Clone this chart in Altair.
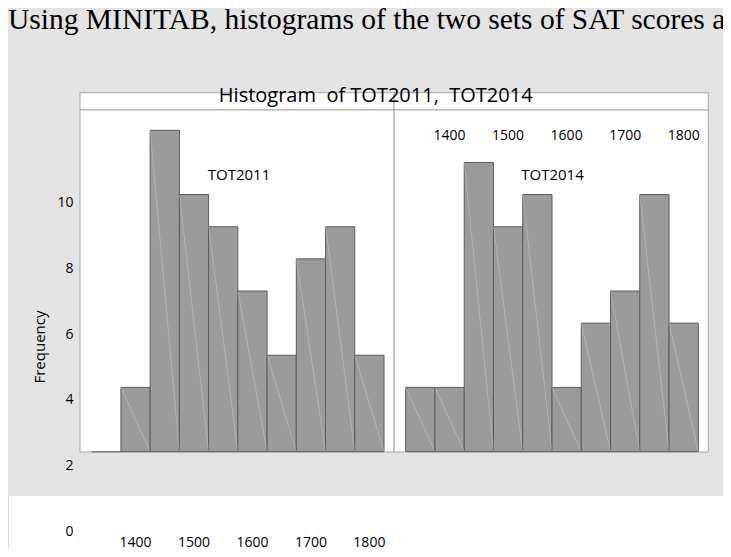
import altair as alt
import pandas as pd

# ---- data ----
bin_starts = [1325, 1375, 1425, 1475, 1525, 1575, 1625, 1675, 1725, 1775]
bin_ends = [1375, 1425, 1475, 1525, 1575, 1625, 1675, 1725, 1775, 1825]
counts_2011 = [0, 2, 10, 8, 7, 5, 3, 6, 7, 3]
counts_2014 = [2, 2, 9, 7, 8, 2, 4, 5, 8, 4]
x_tick_values = [1400, 1500, 1600, 1700, 1800]
top_tick_values = [1600, 1700, 1800]
y_tick_values = [0, 2, 4, 6, 8, 10]
y_label_values = [0, 2, 4, 6, 8, 10]

intro_text = "Using MINITAB, histograms of the two sets of SAT scores are shown below."
title_text = "Histogram\u00a0\u00a0of TOT2011,\u00a0\u00a0TOT2014"
panel_names = ["TOT2011", "TOT2014"]

W, H = 715, 541
FONT = "Open Sans"
FRAME = "#a8a8a8"

df11 = pd.DataFrame({"start": bin_starts, "end": bin_ends, "count": counts_2011})
df14 = pd.DataFrame({"start": bin_starts, "end": bin_ends, "count": counts_2014})
df_xl = pd.DataFrame({"v": x_tick_values, "t": [str(v) for v in x_tick_values]})
df_yl = pd.DataFrame({"v": y_label_values, "t": [str(v) for v in y_label_values]})
one = pd.DataFrame({"k": [0]})

xs_left = alt.Scale(domain=[1325, 1825], range=[83.7, 376], nice=False, zero=False)
xs_right = alt.Scale(domain=[1325, 1825], range=[397.7, 690.3], nice=False, zero=False)
ys = alt.Scale(domain=[0, 10], range=[443.7, 122.3], nice=False, zero=False)
ys_lab = alt.Scale(domain=[0, 10], range=[524, 195], nice=False, zero=False)

bg = alt.Chart(one).mark_rect(fill="#e4e4e4").encode(
    x=alt.value(0), x2=alt.value(W), y=alt.value(0), y2=alt.value(488))

intro = alt.Chart(one).mark_text(
    text=intro_text, font="Liberation Serif", fontSize=29.5, align="left",
    baseline="alphabetic", color="black").encode(x=alt.value(0), y=alt.value(21))

header = alt.Chart(one).mark_rect(fill="white", stroke=FRAME, strokeWidth=1).encode(
    x=alt.value(72), x2=alt.value(700.3), y=alt.value(84.7), y2=alt.value(102))

panel = alt.Chart(one).mark_rect(fill="white", stroke=FRAME, strokeWidth=1).encode(
    x=alt.value(72), x2=alt.value(700.3), y=alt.value(102), y2=alt.value(444))

bars_l = alt.Chart(df11).mark_rect(fill="#9b9b9b", stroke="#5c5c5c", strokeWidth=1).encode(
    x=alt.X("start:Q", scale=xs_left,
            axis=alt.Axis(orient="bottom", offset=443.7 - H, values=x_tick_values,
                          labels=False, domain=False, grid=False, tickSize=4,
                          tickColor=FRAME, title=None)),
    x2="end:Q",
    y=alt.Y("count:Q", scale=ys,
            axis=alt.Axis(orient="left", offset=-72, values=y_tick_values,
                          labels=False, domain=False, grid=False, tickSize=3.5,
                          tickColor=FRAME, title=None)),
    y2=alt.datum(0),
)

bars_r = alt.Chart(df14).mark_rect(fill="#9b9b9b", stroke="#5c5c5c", strokeWidth=1).encode(
    x=alt.X("start:Q", scale=xs_right,
            axis=alt.Axis(orient="top", offset=-84, values=top_tick_values,
                          labels=False, domain=False, grid=False, tickSize=5,
                          tickColor=FRAME, title=None)),
    x2="end:Q",
    y=alt.Y("count:Q", scale=ys, axis=None),
    y2=alt.datum(0),
)

seam_l = alt.Chart(df11).mark_rule(color="white", opacity=0.3, strokeWidth=0.8).encode(
    x=alt.X("start:Q", scale=xs_left, axis=None), x2="end:Q",
    y=alt.Y("count:Q", scale=ys, axis=None), y2=alt.datum(0))

seam_r = alt.Chart(df14).mark_rule(color="white", opacity=0.3, strokeWidth=0.8).encode(
    x=alt.X("start:Q", scale=xs_right, axis=None), x2="end:Q",
    y=alt.Y("count:Q", scale=ys, axis=None), y2=alt.datum(0))

divider = alt.Chart(one).mark_rule(color="#9c9c9c", strokeWidth=1.2).encode(
    x=alt.value(386), y=alt.value(84.7), y2=alt.value(444))

title = alt.Chart(one).mark_text(
    text=title_text, font=FONT, fontSize=20, align="center", baseline="alphabetic",
    color="black").encode(x=alt.value(367.7), y=alt.value(93.5))

lab11 = alt.Chart(one).mark_text(
    text=panel_names[0], font=FONT, fontSize=15, align="center", baseline="alphabetic",
    color="black").encode(x=alt.value(231), y=alt.value(172))

lab14 = alt.Chart(one).mark_text(
    text=panel_names[1], font=FONT, fontSize=15, align="center", baseline="alphabetic",
    color="black").encode(x=alt.value(544.5), y=alt.value(172))

top_labels = alt.Chart(df_xl).mark_text(
    font=FONT, fontSize=14, align="center", baseline="alphabetic", color="black").encode(
    x=alt.X("v:Q", scale=xs_right, axis=None), y=alt.value(132), text="t:N")

bottom_labels = alt.Chart(df_xl).mark_text(
    font=FONT, fontSize=14, align="center", baseline="alphabetic", color="black").encode(
    x=alt.X("v:Q", scale=xs_left, axis=None), y=alt.value(539), text="t:N")

y_labels = alt.Chart(df_yl).mark_text(
    font=FONT, fontSize=14, align="right", baseline="middle", color="black").encode(
    x=alt.value(65.5), y=alt.Y("v:Q", scale=ys_lab, axis=None), text="t:N")

freq = alt.Chart(one).mark_text(
    text="Frequency", font=FONT, fontSize=15, angle=270, align="center",
    baseline="middle", color="black").encode(x=alt.value(32), y=alt.value(339))

chart = alt.layer(
    bg, intro, header, panel, bars_l, bars_r, seam_l, seam_r, divider,
    title, lab11, lab14, top_labels, bottom_labels, y_labels, freq,
).resolve_scale(x="independent", y="independent").properties(
    width=W, height=H, autosize=alt.AutoSizeParams(type="none"), padding=0,
).configure_view(stroke="transparent", strokeWidth=0).configure(font=FONT)

chart.save("out.html", embed_options={"renderer": "svg", "actions": False})
